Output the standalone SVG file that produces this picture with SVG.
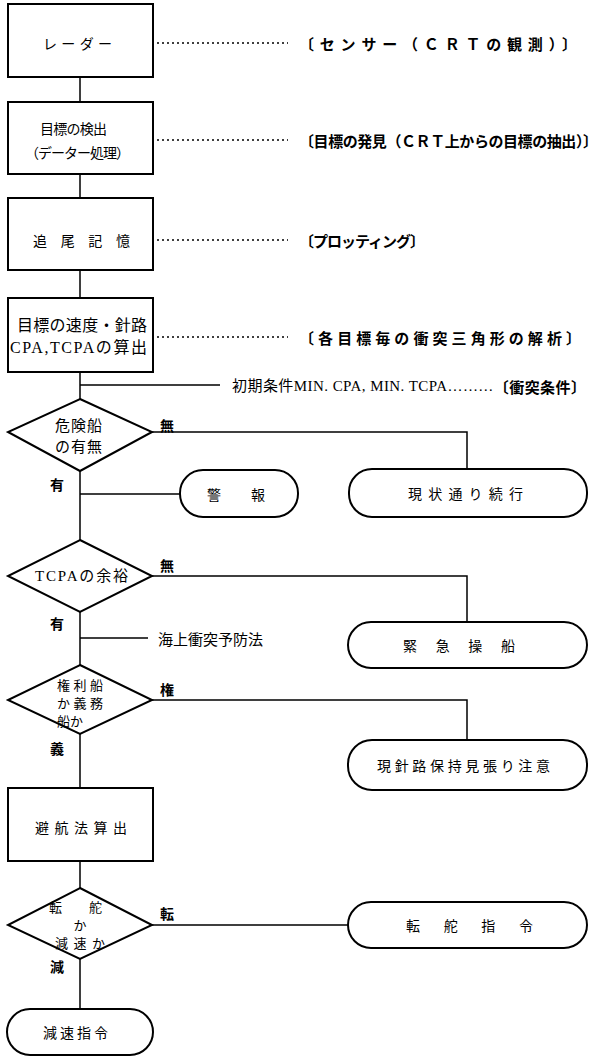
<svg xmlns="http://www.w3.org/2000/svg" width="600" height="1062" viewBox="0 0 600 1062">
<style>
.shape{fill:#fff;stroke:#000;stroke-width:2}
.ln{fill:none;stroke:#000;stroke-width:1.5}
.dot{fill:none;stroke:#000;stroke-width:1.5;stroke-dasharray:2 3}
text{font-family:"Noto Sans CJK JP","Noto Sans",sans-serif;fill:#000;dominant-baseline:central}
.t{font-size:14px}
.t2{font-size:15px}
.s{font-size:13px}
.m{font-size:16px;font-family:"Liberation Serif","Noto Sans CJK JP",serif}
.b{font-size:15px;font-weight:bold}
.lb{font-size:14px;font-weight:bold}
</style>
<rect width="600" height="1062" fill="#fff"/>
<g id="connectors">
<path class="ln" d="M80 77V102M80 174V198M80 270V298M80 372V399M80 471V540M80 612V665M80 734V788M80 861V888M80 959V1009"/>
<path class="ln" d="M80 385H220M80 494H180M80 638H148"/>
<path class="ln" d="M152 432H467V469M152 576H467V622M152 700H467V740M152 925H348"/>
<path class="dot" d="M157 43H288M157 140H288M157 240H288M157 337H288"/>
</g>
<g id="n1"><rect class="shape" x="8" y="4" width="145" height="73"/><text class="t" x="43" y="43" textLength="69" lengthAdjust="spacing">レーダー</text></g>
<g id="n2"><rect class="shape" x="8" y="102" width="145" height="72"/><text class="t" x="40" y="128" textLength="67" lengthAdjust="spacing">目標の検出</text><text class="t" x="25" y="152" textLength="105" lengthAdjust="spacing">（データー処理）</text></g>
<g id="n3"><rect class="shape" x="8" y="198" width="145" height="72"/><text class="t" x="33" y="240" textLength="97" lengthAdjust="spacing">追尾記憶</text></g>
<g id="n4"><rect class="shape" x="8" y="298" width="145" height="74"/><text class="m" x="17" y="325" textLength="130" lengthAdjust="spacing">目標の速度・針路</text><text class="m" x="10" y="347" textLength="137" lengthAdjust="spacing">CPA,TCPAの算出</text></g>
<g id="d1"><polygon class="shape" points="80,399 152,432 80,471 8,432"/><text class="t2" x="55" y="424" textLength="47" lengthAdjust="spacing">危険船</text><text class="t2" x="55" y="445" textLength="47" lengthAdjust="spacing">の有無</text></g>
<g id="r1"><rect class="shape" x="180" y="470" width="118" height="47" rx="23"/><text class="t" x="207" y="494" textLength="58" lengthAdjust="spacing">警報</text></g>
<g id="r2"><rect class="shape" x="349" y="469" width="238" height="48" rx="23"/><text class="t" x="408" y="493" textLength="115" lengthAdjust="spacing">現状通り続行</text></g>
<g id="d2"><polygon class="shape" points="80,540 152,576 80,612 8,576"/><text class="m" x="35" y="576" textLength="93" lengthAdjust="spacing" style="font-size:15px">TCPAの余裕</text></g>
<g id="r3"><rect class="shape" x="348" y="622" width="239" height="46" rx="23"/><text class="t" x="403" y="645" textLength="112" lengthAdjust="spacing">緊急操船</text></g>
<g id="d3"><polygon class="shape" points="80,665 152,700 80,734 8,700"/><text class="s" x="57" y="684" textLength="46" lengthAdjust="spacing">権利船</text><text class="s" x="57" y="702" textLength="46" lengthAdjust="spacing">か義務</text><text class="s" x="57" y="720">船か</text></g>
<g id="r4"><rect class="shape" x="348" y="740" width="239" height="50" rx="24"/><text class="t" x="377" y="765" textLength="173" lengthAdjust="spacing">現針路保持見張り注意</text></g>
<g id="n5"><rect class="shape" x="8" y="788" width="145" height="73"/><text class="t" x="35" y="827" textLength="92" lengthAdjust="spacing">避航法算出</text></g>
<g id="d4"><polygon class="shape" points="80,888 152,925 80,959 8,925"/><text class="s" x="49" y="906" textLength="53" lengthAdjust="spacing">転舵</text><text class="s" x="80" y="924" text-anchor="middle">か</text><text class="s" x="55" y="942" textLength="50" lengthAdjust="spacing">減速か</text></g>
<g id="r5"><rect class="shape" x="348" y="902" width="239" height="46" rx="23"/><text class="t" x="406" y="925" textLength="127" lengthAdjust="spacing">転舵指令</text></g>
<g id="r6"><rect class="shape" x="7" y="1009" width="146" height="46" rx="23"/><text class="t" x="43" y="1032" textLength="65" lengthAdjust="spacing">減速指令</text></g>
<g id="labels">
<text class="b" x="299" y="43" textLength="278" lengthAdjust="spacing">〔センサー（ＣＲＴの観測）〕</text>
<text class="b" x="299" y="140" textLength="299" lengthAdjust="spacing">〔目標の発見（ＣＲＴ上からの目標の抽出）〕</text>
<text class="b" x="299" y="240" textLength="126" lengthAdjust="spacing">〔プロッティング〕</text>
<text class="b" x="299" y="337" textLength="282" lengthAdjust="spacing">〔各目標毎の衝突三角形の解析〕</text>
<text class="m" x="232" y="386" textLength="354" lengthAdjust="spacing" style="font-size:15px">初期条件MIN. CPA, MIN. TCPA………<tspan font-weight="bold" font-family="Noto Sans CJK JP, sans-serif">〔衝突条件〕</tspan></text>
<text class="t2" x="158" y="638" textLength="105" lengthAdjust="spacing">海上衝突予防法</text>
<text class="lb" x="160" y="425">無</text>
<text class="lb" x="50" y="484">有</text>
<text class="lb" x="160" y="565">無</text>
<text class="lb" x="50" y="623">有</text>
<text class="lb" x="160" y="689">権</text>
<text class="lb" x="50" y="748">義</text>
<text class="lb" x="160" y="913">転</text>
<text class="lb" x="50" y="966">減</text>
</g>
</svg>
